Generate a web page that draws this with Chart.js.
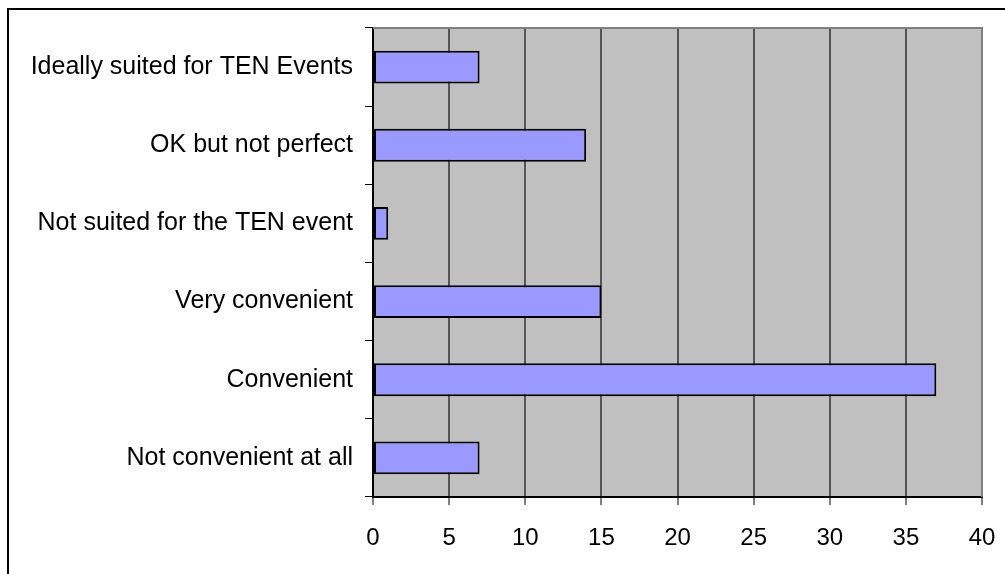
<!DOCTYPE html>
<html>
<head>
<meta charset="utf-8">
<script src="https://cdn.jsdelivr.net/npm/chart.js@4/dist/chart.umd.min.js"></script>
<style>
  html, body { margin: 0; padding: 0; background: #fff; overflow: hidden; }
  #wrap { width: 1005px; height: 574px; }
</style>
</head>
<body>
<div id="wrap"><canvas id="chart" width="1005" height="574"></canvas></div>
<script>
const categories = [
  "Ideally suited for TEN Events",
  "OK but not perfect",
  "Not suited for the TEN event",
  "Very convenient",
  "Convenient",
  "Not convenient at all"
];
const responses = [7, 14, 1, 15, 37, 7];
const xTicks = [0, 5, 10, 15, 20, 25, 30, 35, 40];

const FONT = "'Liberation Sans', Arial, sans-serif";

// gray plot area + outer frame
const backdrop = {
  id: "backdrop",
  beforeDraw(chart) {
    const ctx = chart.ctx;
    const a = chart.chartArea;
    ctx.save();
    ctx.fillStyle = "#fff";
    ctx.fillRect(0, 0, chart.width, chart.height);
    // frame (runs off right and bottom)
    ctx.strokeStyle = "#000";
    ctx.lineWidth = 2;
    ctx.strokeRect(8, 9, chart.width + 20, chart.height + 20);
    ctx.fillStyle = "#c0c0c0";
    ctx.fillRect(a.left, a.top, a.right - a.left, a.bottom - a.top);
    ctx.restore();
  },
  beforeDatasetsDraw(chart) {
    const ctx = chart.ctx;
    const a = chart.chartArea;
    ctx.save();
    ctx.strokeStyle = "#808080";
    ctx.lineWidth = 2;
    ctx.beginPath();
    ctx.moveTo(a.left, a.top);
    ctx.lineTo(a.right, a.top);
    ctx.lineTo(a.right, a.bottom);
    ctx.stroke();
    ctx.restore();
  }
};

new Chart(document.getElementById("chart"), {
  type: "bar",
  data: {
    labels: categories,
    datasets: [{
      data: responses,
      backgroundColor: "#9999ff",
      borderColor: "#000",
      borderWidth: 2,
      borderSkipped: false,
      categoryPercentage: 1,
      barPercentage: 0.42
    }]
  },
  options: {
    indexAxis: "y",
    responsive: false,
    animation: false,
    devicePixelRatio: 1,
    layout: { padding: { top: 28, right: 23, left: 0, bottom: 0 } },
    plugins: {
      legend: { display: false },
      tooltip: { enabled: false }
    },
    scales: {
      x: {
        min: 0,
        max: 40,
        afterBuildTicks: s => { s.ticks = xTicks.map(v => ({ value: v })); },
        afterFit: s => { s.height = 77; s.paddingLeft = 0; s.paddingRight = 0; },
        grid: {
          color: "#555",
          lineWidth: 2,
          tickColor: "#000",
          tickLength: 8,
          tickWidth: 1
        },
        border: { color: "#000", width: 2 },
        ticks: {
          color: "#000",
          padding: 19,
          font: { family: FONT, size: 24 }
        }
      },
      y: {
        afterFit: s => { s.width = 373; s.paddingTop = 0; s.paddingBottom = 0; },
        grid: {
          offset: true,
          drawOnChartArea: false,
          tickColor: "#000",
          tickLength: 8,
          tickWidth: 1
        },
        border: { color: "#000", width: 2 },
        ticks: {
          color: "#000",
          padding: 12,
          font: { family: FONT, size: 25 }
        }
      }
    }
  },
  plugins: [backdrop]
});
</script>
</body>
</html>
